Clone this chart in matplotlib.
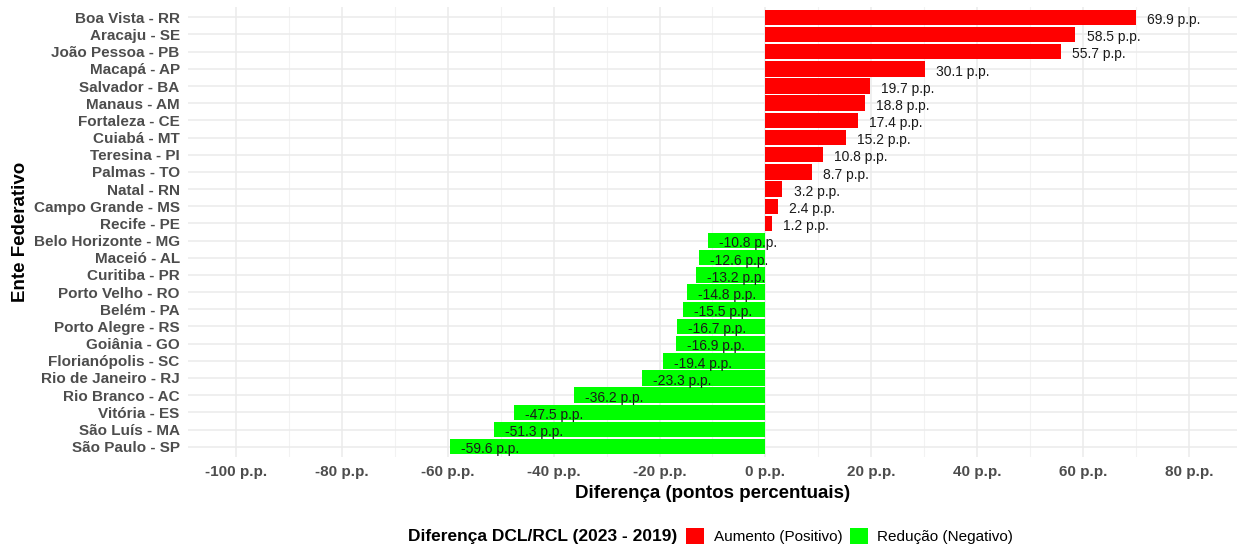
import numpy as np
import matplotlib
matplotlib.use("Agg")
from matplotlib import pyplot as plt
from matplotlib.patches import Patch
from matplotlib.ticker import MultipleLocator, FuncFormatter

plt.rcParams['font.family'] = ['Liberation Sans', 'DejaVu Sans']

# data, top to bottom as in the chart
entes = ["Boa Vista - RR", "Aracaju - SE", "João Pessoa - PB", "Macapá - AP",
         "Salvador - BA", "Manaus - AM", "Fortaleza - CE", "Cuiabá - MT",
         "Teresina - PI", "Palmas - TO", "Natal - RN", "Campo Grande - MS",
         "Recife - PE", "Belo Horizonte - MG", "Maceió - AL", "Curitiba - PR",
         "Porto Velho - RO", "Belém - PA", "Porto Alegre - RS", "Goiânia - GO",
         "Florianópolis - SC", "Rio de Janeiro - RJ", "Rio Branco - AC",
         "Vitória - ES", "São Luís - MA", "São Paulo - SP"]
diferenca = [69.9, 58.5, 55.7, 30.1, 19.7, 18.8, 17.4, 15.2, 10.8, 8.7, 3.2, 2.4,
             1.2, -10.8, -12.6, -13.2, -14.8, -15.5, -16.7, -16.9, -19.4, -23.3,
             -36.2, -47.5, -51.3, -59.6]
legenda_titulo = "Diferença DCL/RCL (2023 - 2019)"
legenda_itens = ["Aumento (Positivo)", "Redução (Negativo)"]

RED = "#FF0000"
GREEN = "#00FF00"
W, H = 1237, 545

fig = plt.figure(figsize=(W / 100, H / 100), dpi=100)
ax = fig.add_axes([188 / W, 1 - 457 / H, (W - 188) / W, 450 / H])

y = np.arange(len(entes))
vals = np.array(diferenca)
cores = [RED if v > 0 else GREEN for v in vals]
ax.barh(y, vals, height=0.9, color=cores, zorder=2)

for yi, v in zip(y, vals):
    ax.annotate("%.1f p.p." % v, xy=(v, yi), xytext=(8, -2), textcoords="offset points",
                ha="left", va="center", fontsize=10, color="#1a1a1a", zorder=3)

ax.set_xlim(-109, 89)
ax.set_ylim(len(entes) - 1 + 0.6, -0.6)
ax.set_yticks(y)
ax.set_yticklabels(entes)
ax.xaxis.set_major_locator(MultipleLocator(20))
ax.xaxis.set_minor_locator(MultipleLocator(10))
ax.xaxis.set_major_formatter(FuncFormatter(lambda v, p: "%d p.p." % round(v)))

for s in ax.spines.values():
    s.set_visible(False)
ax.tick_params(axis="both", which="both", length=0)
ax.tick_params(axis="y", labelsize=11, labelcolor="#4d4d4d", pad=6)
ax.tick_params(axis="x", labelsize=11, labelcolor="#4d4d4d", pad=6)
for lab in ax.get_xticklabels() + ax.get_yticklabels():
    lab.set_fontweight("bold")

ax.grid(True, which="major", axis="both", color="#ebebeb", linewidth=1.1, zorder=0)
ax.grid(True, which="minor", axis="x", color="#f2f2f2", linewidth=0.8, zorder=0)
ax.set_axisbelow(True)

ax.set_xlabel("Diferença (pontos percentuais)", fontsize=13.5, fontweight="bold", labelpad=4)
ax.set_ylabel("Ente Federativo", fontsize=13.5, fontweight="bold", labelpad=3)

fig.text(408 / W, 1 - 536 / H, legenda_titulo, fontsize=12.5, fontweight="bold",
         ha="left", va="center")
handles = [Patch(facecolor=RED, edgecolor="none"), Patch(facecolor=GREEN, edgecolor="none")]
fig.legend(handles, legenda_itens, loc="center left", bbox_to_anchor=(686 / W, 1 - 536 / H),
           ncol=2, frameon=False, fontsize=11, handlelength=1.2, handleheight=1.2,
           handletextpad=0.6, columnspacing=0.5, borderpad=0, borderaxespad=0)

fig.savefig("out.png", dpi=100, facecolor="white")
